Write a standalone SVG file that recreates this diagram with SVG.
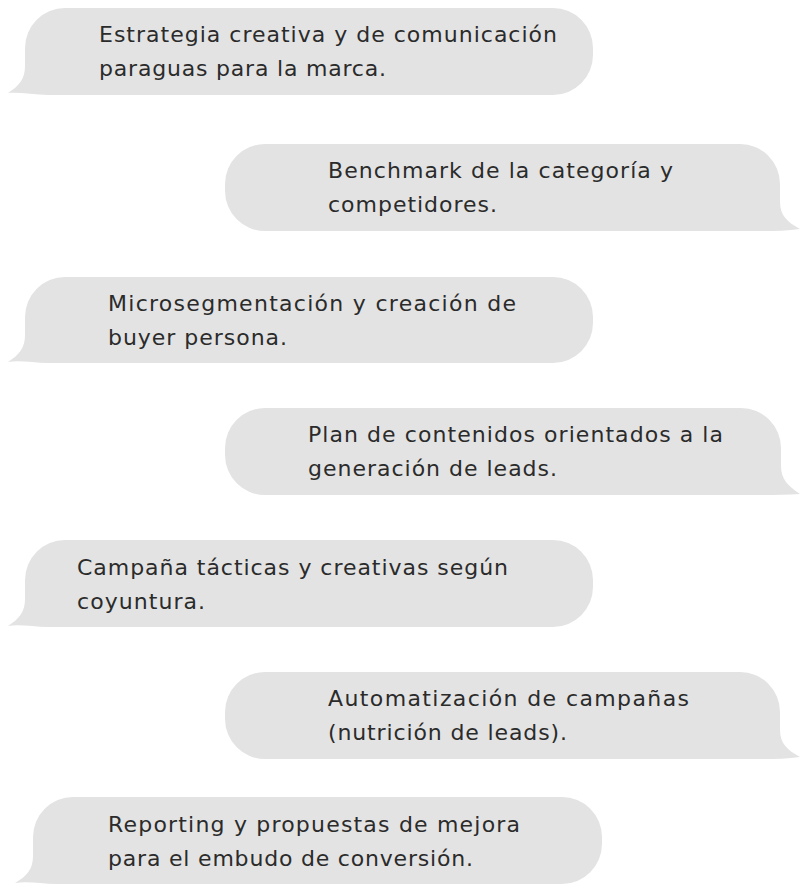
<svg xmlns="http://www.w3.org/2000/svg" width="808" height="891" viewBox="0 0 808 891">
<style>
.b{fill:#e3e3e3}
.t{font-family:"DejaVu Sans","Liberation Sans",sans-serif;font-size:22px;fill:#2b2b2b}
</style>
<rect width="808" height="891" fill="#ffffff"/>
<g id="n1">
<path class="b" d="M65,8 H553 A40,40 0 0 1 593,48 V55 A40,40 0 0 1 553,95 H48 C34,95 20,92 8,93 C19,86 25,79 25,66 V48 A40,40 0 0 1 65,8 Z"/>
<text class="t" x="99" y="42" textLength="458" lengthAdjust="spacing">Estrategia creativa y de comunicación</text>
<text class="t" x="99" y="76" textLength="287" lengthAdjust="spacing">paraguas para la marca.</text>
</g>
<g id="n2">
<path class="b" d="M265,144 H740 A40,40 0 0 1 780,184 V202 C780,215 787,222 800,229 C788,231 774,231 760,231 H265 A40,40 0 0 1 225,191 V184 A40,40 0 0 1 265,144 Z"/>
<text class="t" x="328" y="178" textLength="345" lengthAdjust="spacing">Benchmark de la categoría y</text>
<text class="t" x="328" y="212" textLength="169" lengthAdjust="spacing">competidores.</text>
</g>
<g id="n3">
<path class="b" d="M65,277 H553 A40,40 0 0 1 593,317 V323 A40,40 0 0 1 553,363 H48 C34,363 20,360 8,362 C19,355 25,348 25,335 V317 A40,40 0 0 1 65,277 Z"/>
<text class="t" x="108" y="311" textLength="408" lengthAdjust="spacing">Microsegmentación y creación de</text>
<text class="t" x="108" y="345" textLength="179" lengthAdjust="spacing">buyer persona.</text>
</g>
<g id="n4">
<path class="b" d="M265,408 H741 A40,40 0 0 1 781,448 V466 C781,479 788,486 800,494 C788,495 774,495 760,495 H265 A40,40 0 0 1 225,455 V448 A40,40 0 0 1 265,408 Z"/>
<text class="t" x="308" y="442" textLength="415" lengthAdjust="spacing">Plan de contenidos orientados a la</text>
<text class="t" x="308" y="476" textLength="249" lengthAdjust="spacing">generación de leads.</text>
</g>
<g id="n5">
<path class="b" d="M65,540 H553 A40,40 0 0 1 593,580 V587 A40,40 0 0 1 553,627 H48 C34,627 20,624 8,626 C19,619 25,612 25,599 V580 A40,40 0 0 1 65,540 Z"/>
<text class="t" x="77" y="575" textLength="431" lengthAdjust="spacing">Campaña tácticas y creativas según</text>
<text class="t" x="77" y="609" textLength="128" lengthAdjust="spacing">coyuntura.</text>
</g>
<g id="n6">
<path class="b" d="M265,672 H740 A40,40 0 0 1 780,712 V730 C780,743 787,750 800,757 C788,759 774,759 760,759 H265 A40,40 0 0 1 225,719 V712 A40,40 0 0 1 265,672 Z"/>
<text class="t" x="328" y="706" textLength="361" lengthAdjust="spacing">Automatización de campañas</text>
<text class="t" x="328" y="740" textLength="239" lengthAdjust="spacing">(nutrición de leads).</text>
</g>
<g id="n7">
<path class="b" d="M73,797 H562 A40,40 0 0 1 602,837 V844 A40,40 0 0 1 562,884 H56 C42,884 28,881 15,883 C27,876 33,869 33,856 V837 A40,40 0 0 1 73,797 Z"/>
<text class="t" x="108" y="832" textLength="412" lengthAdjust="spacing">Reporting y propuestas de mejora</text>
<text class="t" x="108" y="866" textLength="365" lengthAdjust="spacing">para el embudo de conversión.</text>
</g>
<g id="connectors"></g>
</svg>
